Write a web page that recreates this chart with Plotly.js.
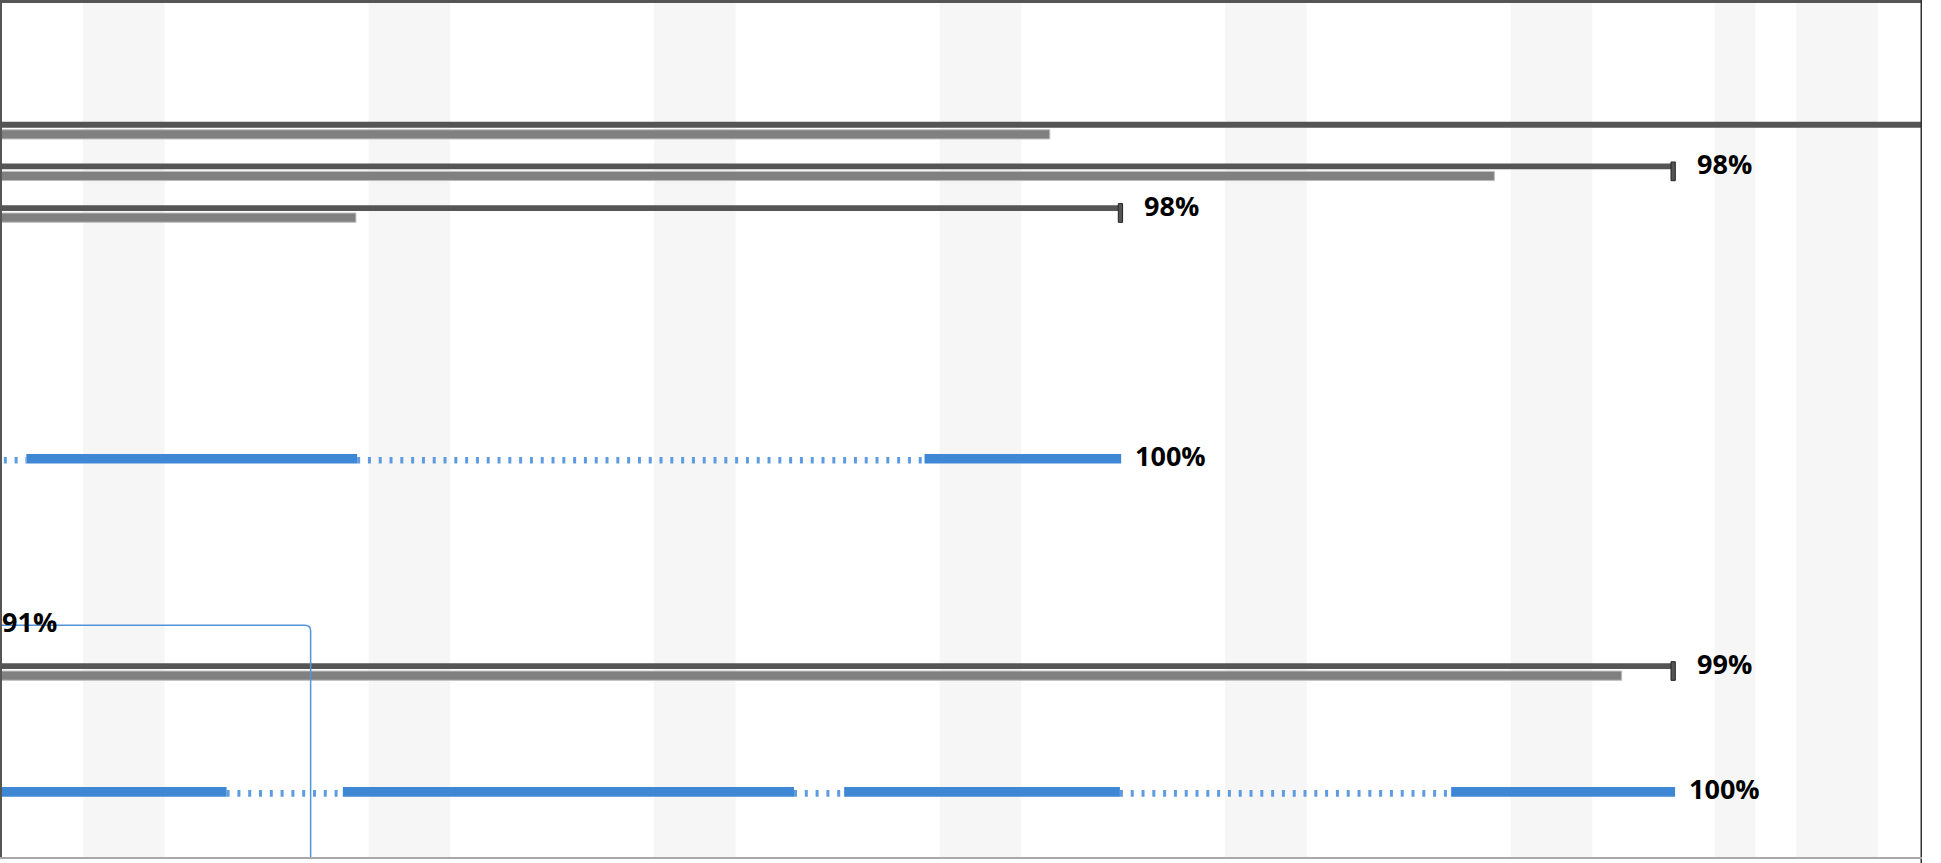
<!DOCTYPE html>
<html><head><meta charset="utf-8">
<script src="https://cdn.plot.ly/plotly-3.0.1.min.js"></script>
<style>html,body{margin:0;padding:0;background:#fff;overflow:hidden}#chart{width:1941px;height:863px}</style>
</head><body><div id="chart"></div>
<script>
// ---- data (x in working-calendar days from chart start, rows top to bottom) ----
const taskNames = ["Task A", "Task B", "Task C", "Task D", "Task E", "Task F", "Task G"];
const taskRows = [0, 1, 2, 8, 12, 13, 16];

const baselineTasks = ["Task A", "Task B", "Task C", "Task F"];
const baselineStart = [-2, -2, -2, -2];
const baselineFinish = [48, 40.93, 27.38, 40.93];
const actualStart = [-2, -2, -2, -2];
const actualFinish = [25.70, 36.60, 8.69, 39.72];

const taskDSegStart = [-1, 0.61, 8.72, 22.63];
const taskDSegEnd = [0.61, 8.72, 22.63, 27.45];
const taskDSegKind = ["split", "work", "split", "work"];

const taskGSegStart = [-1, 5.52, 8.37, 19.43, 20.66, 27.42, 35.54];
const taskGSegEnd = [5.52, 8.37, 19.43, 20.66, 27.42, 35.54, 41.03];
const taskGSegKind = ["work", "split", "work", "split", "work", "split", "work"];

const labelTasks = ["Task B", "Task C", "Task D", "Task E", "Task F", "Task G"];
const labelEnd = [40.93, 27.38, 27.45, -0.51, 40.93, 41.03];
const labelHasBaseline = [true, true, false, false, true, false];
const labelText = ["98%", "98%", "100%", "91%", "99%", "100%"];

const nonWorkStart = [2, 9, 16, 23, 30, 37, 42, 44];
const nonWorkEnd = [4, 11, 18, 25, 32, 39, 43, 46];

const linkFromTask = ["Task E"];
const linkFromX = [-0.51];
const linkTurnX = [7.58];
const linkToRow = [19];

// ---- styling constants ----
const W = 1941, H = 863;
const M = {l: 0, r: 19, t: 0, b: 6};
const xRange = [-0.035, 47.083];
const yRange = [17.564, -3.0175];
const pxPerDay = (W - M.l - M.r) / (xRange[1] - xRange[0]);
const pxPerRow = (H - M.t - M.b) / (yRange[0] - yRange[1]);
const px2d = p => p / pxPerDay;
const px2r = p => p / pxPerRow;

const rowOf = name => taskRows[taskNames.indexOf(name)];
const markerW = px2d(4.3);

const traces = [];

// baseline (dark) bars
traces.push({
  type: 'bar', orientation: 'h',
  y: baselineTasks.map(rowOf), base: baselineStart,
  x: baselineFinish.map((f, i) => f - baselineStart[i]),
  width: px2r(5.8), offset: px2r(-3.8),
  marker: {color: '#555555', line: {width: 0}},
  hoverinfo: 'skip', showlegend: false
});
// actual (gray) bars
traces.push({
  type: 'bar', orientation: 'h',
  y: baselineTasks.map(rowOf), base: actualStart,
  x: actualFinish.map((f, i) => f - actualStart[i]),
  width: px2r(9.2), offset: px2r(4.1),
  marker: {color: '#808080', line: {width: 1, color: '#bdbdbd'}},
  hoverinfo: 'skip', showlegend: false
});
// baseline finish markers
traces.push({
  type: 'bar', orientation: 'h',
  y: baselineTasks.map(rowOf), base: baselineFinish,
  x: baselineFinish.map(() => markerW),
  width: px2r(18.7), offset: px2r(-5.3),
  marker: {color: '#555555', line: {width: 1, color: '#222222'}},
  hoverinfo: 'skip', showlegend: false
});

// split tasks
const segs = [
  {task: "Task D", s: taskDSegStart, e: taskDSegEnd, k: taskDSegKind},
  {task: "Task G", s: taskGSegStart, e: taskGSegEnd, k: taskGSegKind}
];
const workY = [], workBase = [], workLen = [];
const splitX = [], splitY = [];
segs.forEach(sg => {
  const r = rowOf(sg.task);
  sg.s.forEach((s, i) => {
    if (sg.k[i] === 'work') {
      workY.push(r); workBase.push(s); workLen.push(sg.e[i] - s);
    } else {
      splitX.push(s, sg.e[i], null);
      splitY.push(r + px2r(1.5), r + px2r(1.5), null);
    }
  });
});
traces.push({
  type: 'scatter', mode: 'lines', x: splitX, y: splitY,
  line: {color: '#5f9be0', width: 6.7, dash: '3px,7.8px'},
  hoverinfo: 'skip', showlegend: false
});
traces.push({
  type: 'bar', orientation: 'h',
  y: workY, base: workBase, x: workLen,
  width: px2r(9.7), offset: px2r(-4.85),
  marker: {color: '#3d87d4', line: {width: 0}},
  hoverinfo: 'skip', showlegend: false
});

// shapes
const shapes = [];
nonWorkStart.forEach((s, i) => shapes.push({
  type: 'rect', xref: 'x', yref: 'paper', x0: s, x1: nonWorkEnd[i], y0: 0, y1: 1,
  fillcolor: '#f6f6f6', line: {width: 0}, layer: 'below'
}));
linkFromTask.forEach((t, i) => {
  const r = rowOf(t);
  const rx = px2d(5.7), ry = px2r(5.7);
  const tx = linkTurnX[i];
  shapes.push({
    type: 'path', xref: 'x', yref: 'y',
    path: `M ${linkFromX[i]},${r} L ${tx - rx},${r} Q ${tx},${r} ${tx},${r + ry} L ${tx},${linkToRow[i]}`,
    line: {color: '#4f94dc', width: 1.5}
  });
});
const plotH = H - M.t - M.b, plotW = W - M.l - M.r;
// frame
shapes.push({type: 'line', xref: 'paper', yref: 'paper', x0: 0, x1: 1, y0: 1 - 1.5 / plotH, y1: 1 - 1.5 / plotH, line: {color: '#555555', width: 3}});
shapes.push({type: 'line', xref: 'paper', yref: 'paper', x0: 1 / plotW, x1: 1 / plotW, y0: 0, y1: 1, line: {color: '#555555', width: 2}});
shapes.push({type: 'line', xref: 'paper', yref: 'paper', x0: 1 - 0.75 / plotW, x1: 1 - 0.75 / plotW, y0: -6 / plotH, y1: 1, line: {color: '#333333', width: 1.5}});
shapes.push({type: 'line', xref: 'paper', yref: 'paper', x0: 0, x1: 1, y0: -1 / plotH, y1: -1 / plotH, line: {color: '#a8a8a8', width: 2}});

// labels
const annotations = labelTasks.map((t, i) => ({
  xref: 'x', yref: 'y',
  x: labelEnd[i] + (labelHasBaseline[i] ? markerW : 0) + px2d(49),
  y: rowOf(t), yshift: 3.5,
  text: labelText[i], showarrow: false, xanchor: 'center', yanchor: 'middle',
  font: {family: 'Open Sans, Noto Sans, sans-serif', size: 27, color: '#000000', weight: 700}
}));

const layout = {
  width: W, height: H, margin: M,
  paper_bgcolor: '#ffffff', plot_bgcolor: '#ffffff',
  barmode: 'overlay', showlegend: false,
  xaxis: {range: xRange, visible: false, fixedrange: true},
  yaxis: {range: yRange, visible: false, fixedrange: true},
  shapes: shapes, annotations: annotations
};
Plotly.newPlot('chart', traces, layout, {displayModeBar: false, staticPlot: true});
</script></body></html>
